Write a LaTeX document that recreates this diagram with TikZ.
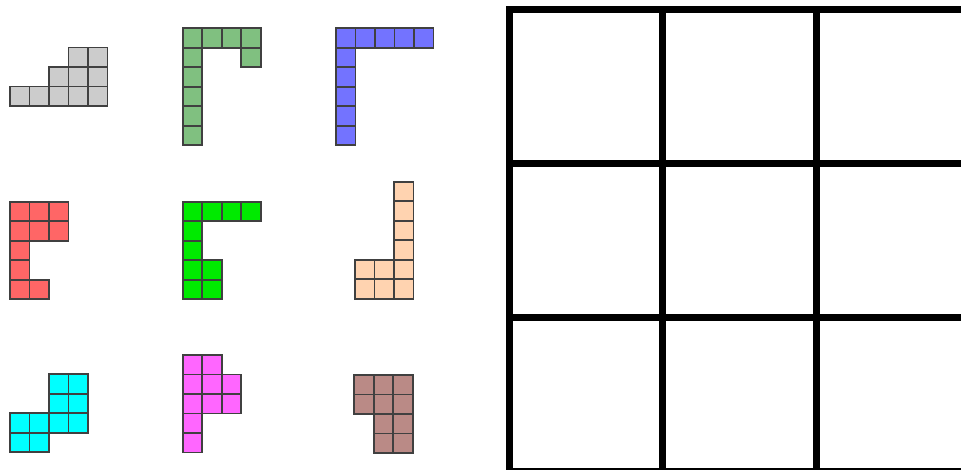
\documentclass[tikz,border=0pt]{standalone}
\usepackage{tikz}
\definecolor{cgray}{HTML}{CCCCCC}
\definecolor{cgreen}{HTML}{80C080}
\definecolor{cblue}{HTML}{7373FF}
\definecolor{cred}{HTML}{FF6666}
\definecolor{clime}{HTML}{00EA00}
\definecolor{cpeach}{HTML}{FFD3B0}
\definecolor{ccyan}{HTML}{00FFFF}
\definecolor{cmag}{HTML}{FF66FF}
\definecolor{cbrown}{HTML}{BA8A86}
\tikzset{cellbox/.style={draw={black!75}, line width=1.7pt}}
\newcommand{\piece}[4]{% x0, y0, color, list of c/r
  \foreach \c/\r in {#4} {
    \draw[cellbox, fill=#3] ({#1+\c*19.5},{#2+\r*19.5}) rectangle ++(19.5,19.5);
  }
}
\begin{document}
\begin{tikzpicture}[x=1pt,y=-1pt]
\useasboundingbox (0,0) rectangle (961,469);
\fill[white] (0,0) rectangle (961,469);
\piece{10}{47.5}{cgray}{3/0,4/0,2/1,3/1,4/1,0/2,1/2,2/2,3/2,4/2}
\piece{182.7}{28.3}{cgreen}{0/0,1/0,2/0,3/0,3/1,0/1,0/2,0/3,0/4,0/5}
\piece{336}{28.3}{cblue}{0/0,1/0,2/0,3/0,4/0,0/1,0/2,0/3,0/4,0/5}
\piece{10}{201.7}{cred}{0/0,1/0,2/0,0/1,1/1,2/1,0/2,0/3,0/4,1/4}
\piece{182.7}{201.7}{clime}{0/0,1/0,2/0,3/0,0/1,0/2,0/3,1/3,0/4,1/4}
\piece{355}{181.7}{cpeach}{2/0,2/1,2/2,2/3,0/4,1/4,2/4,0/5,1/5,2/5}
\piece{10}{374.3}{ccyan}{2/0,3/0,2/1,3/1,0/2,1/2,2/2,3/2,0/3,1/3}
\piece{182.7}{355}{cmag}{0/0,1/0,0/1,1/1,2/1,0/2,1/2,2/2,0/3,0/4}
\piece{354.3}{375}{cbrown}{0/0,1/0,2/0,0/1,1/1,2/1,1/2,2/2,1/3,2/3}
\begin{scope}
\clip (0,0) rectangle (961,469);
\foreach \x in {509,662.5,816,969.5} \draw[line width=7pt] (\x,9) -- (\x,471);
\foreach \y in {9,163,317,471} \draw[line width=7pt] (509,\y) -- (969.5,\y);
\fill (505.5,5.5) rectangle (512.5,12.5);
\end{scope}
\end{tikzpicture}
\end{document}
